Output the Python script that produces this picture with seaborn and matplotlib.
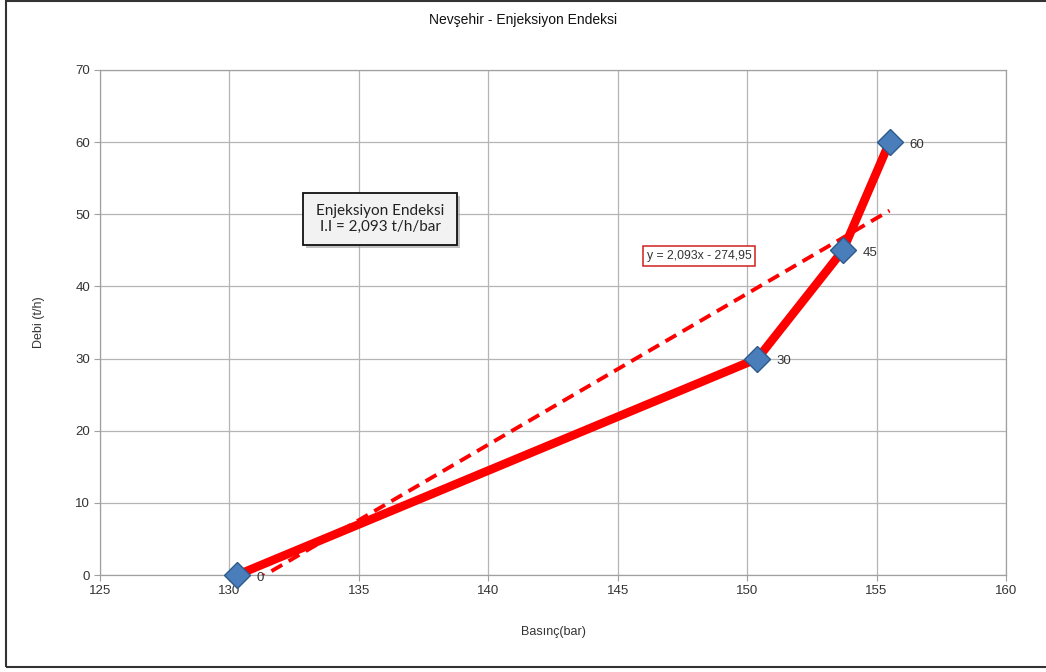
import matplotlib
matplotlib.use("Agg")
import matplotlib.pyplot as plt
import seaborn as sns
import numpy as np
import pandas as pd
from matplotlib.patches import Rectangle

# Data
pressure = [130.3, 150.4, 153.7, 155.5]   # Basınç (bar)
flow = [0, 30, 45, 60]                    # Debi (t/h)
point_labels = ["0", "30", "45", "60"]
trend_slope = 2.093
trend_intercept = -274.95
x_ticks = [125, 130, 135, 140, 145, 150, 155, 160]
y_ticks = [0, 10, 20, 30, 40, 50, 60, 70]

sns.set_theme(style="white")
plt.rcParams['font.family'] = ['Liberation Sans', 'DejaVu Sans']

fig = plt.figure(figsize=(10.46, 6.72), dpi=100)
ax = fig.add_axes([100/1046, 1-575/672, 906/1046, 505/672])

# outer chart border
fig.patches.append(Rectangle((6/1046, 1-667/672), 1.1, 666/672, transform=fig.transFigure,
                             fill=False, edgecolor="#333333", linewidth=1.5, zorder=0))

df = pd.DataFrame({"Basınç": pressure, "Debi": flow})
trend_x = np.array([min(pressure), max(pressure)])
tdf = pd.DataFrame({"x": trend_x, "y": trend_slope * trend_x + trend_intercept})

sns.lineplot(data=tdf, x="x", y="y", ax=ax, color="#ff0000", linewidth=2.8,
             linestyle=(0, (3.2, 1.9)), zorder=3)
sns.lineplot(data=df, x="Basınç", y="Debi", ax=ax, sort=False, color="#ff0000",
             linewidth=6.2, zorder=4, solid_capstyle="round", clip_on=False)
ax.plot(pressure, flow, linestyle="none", marker="D", markersize=13, clip_on=False,
        markerfacecolor="#4a7ebb", markeredgecolor="#2c5a8c", markeredgewidth=1.0, zorder=5)

for xv, yv, lab in zip(pressure, flow, point_labels):
    ax.annotate(lab, (xv, yv), xytext=(14, -2), textcoords="offset points",
                fontsize=9.5, color="#333333", va="center", ha="left", zorder=6)

ax.set_xlim(125, 160)
ax.set_ylim(0, 70)
ax.set_xticks(x_ticks)
ax.set_yticks(y_ticks)
ax.grid(True, color="#b5b5b5", linewidth=0.9)
for s in ax.spines.values():
    s.set_color("#a0a0a0")
    s.set_linewidth(0.9)
ax.tick_params(axis="both", which="both", direction="out", length=4, width=0.8,
               color="#a0a0a0", labelsize=9.5, labelcolor="#333333", bottom=True, left=True, pad=3)

ax.set_xlabel("Basınç(bar)", fontsize=9, color="#333333", labelpad=21)
ax.set_ylabel("Debi (t/h)", fontsize=9, color="#333333", labelpad=22)
fig.text(0.5, 1-20/672, "Nevşehir - Enjeksiyon Endeksi", ha="center", va="center",
         fontsize=10, color="#111111")

# Annotation box with shadow
bx0, by0, bw, bh = 303/1046, 1-245/672, 154/1046, 52/672
fig.patches.append(Rectangle((bx0 + 3/1046, by0 - 3/672), bw, bh, transform=fig.transFigure,
                             facecolor="#9a9a9a", edgecolor="none", alpha=0.6, zorder=7))
fig.patches.append(Rectangle((bx0, by0), bw, bh, transform=fig.transFigure,
                             facecolor="#f2f2f2", edgecolor="#111111", linewidth=1.3, zorder=8))
fig.text(bx0 + bw/2, by0 + bh/2, "Enjeksiyon Endeksi\nI.I = 2,093 t/h/bar", ha="center",
         va="center", fontsize=11, color="#222222", family=["Lato", "DejaVu Sans"],
         linespacing=1.25, zorder=9)

# Trendline equation label
fig.text(699/1046, 1-256/672, "y = 2,093x - 274,95", ha="center", va="center",
         fontsize=8.8, color="#333333", zorder=9,
         bbox=dict(boxstyle="square,pad=0.3", facecolor="white", edgecolor="#d02020", linewidth=1.1))

fig.savefig("out.png", dpi=100)
